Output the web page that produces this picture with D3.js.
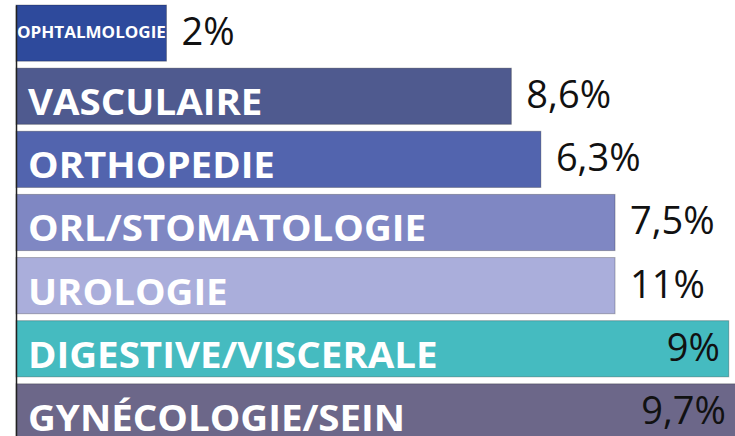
<!DOCTYPE html>
<html>
<head>
  <meta charset="utf-8">
  <title>Spécialités</title>
  <style>
    body { margin: 0; background: #ffffff; }
    svg { display: block; }
  </style>
</head>
<body>
  <script src="https://cdn.jsdelivr.net/npm/d3@7/dist/d3.min.js"></script>
  <script>
    // data
    var categories = ["OPHTALMOLOGIE", "VASCULAIRE", "ORTHOPEDIE", "ORL/STOMATOLOGIE",
                      "UROLOGIE", "DIGESTIVE/VISCERALE", "GYNÉCOLOGIE/SEIN"];
    // bar lengths (as drawn, in % of the plot width)
    var barValues = [20.9, 68.8, 72.9, 83.2, 83.2, 99.0, 100];
    // the numbers printed next to the bars
    var valueLabels = ["2%", "8,6%", "6,3%", "7,5%", "11%", "9%", "9,7%"];
    var barColors = ["#2e4a9c", "#4f5a8f", "#5264ae", "#7f87c3", "#aaaedb", "#45bbc0", "#6c6789"];

    var width = 735, height = 436;

    var svg = d3.select("body").append("svg")
        .attr("width", width)
        .attr("height", height);

    var x = d3.scaleLinear()
        .domain([0, 100])
        .range([16, 736]);

    var y = d3.scaleBand()
        .domain(categories)
        .range([5, 440])
        .paddingInner(0.11)
        .paddingOuter(0);

    var rows = categories.map(function (c, i) {
      return { cat: c, v: barValues[i], label: valueLabels[i], color: barColors[i], i: i };
    });

    // bars
    svg.selectAll("rect.bar")
      .data(rows)
      .enter().append("rect")
        .attr("class", "bar")
        .attr("x", x(0))
        .attr("y", function (d) { return y(d.cat); })
        .attr("width", function (d) { return x(d.v) - x(0); })
        .attr("height", y.bandwidth())
        .attr("fill", function (d) { return d.color; })
        .attr("stroke", "rgba(0,0,0,0.25)")
        .attr("stroke-width", 1);

    // category names inside bars (stretched a bit, the original font is taller)
    svg.selectAll("text.cat")
      .data(rows)
      .enter().append("text")
        .attr("class", "cat")
        .attr("transform", function (d) {
          var tx = d.i === 0 ? x(0) + 1 : x(0) + 12;
          var ty = y(d.cat) + (d.i === 0 ? 33 : 47);
          return "translate(" + tx + "," + ty + ") scale(1.1,1)";
        })
        .attr("font-family", "'Open Sans', sans-serif")
        .attr("font-weight", "bold")
        .attr("font-size", function (d) { return d.i === 0 ? "15.5px" : "35px"; })
        .attr("fill", "#ffffff")
        .text(function (d) { return d.cat; });

    // percentage labels, outside the bar unless there is no room left
    svg.selectAll("text.val")
      .data(rows)
      .enter().append("text")
        .attr("class", "val")
        .attr("font-family", "'Open Sans', sans-serif")
        .attr("font-size", "38px")
        .attr("fill", "#111111")
        .attr("y", function (d) { return y(d.cat) + 40; })
        .text(function (d) { return d.label; })
        .each(function (d) {
          var t = d3.select(this);
          var w = this.getComputedTextLength();
          var end = x(d.v);
          if (end + 14 + w > width - 4) {
            t.attr("x", Math.min(end, width) - 9).attr("text-anchor", "end");
          } else {
            t.attr("x", end + 15).attr("text-anchor", "start");
          }
        });

    // left axis line only
    svg.append("g")
        .attr("transform", "translate(" + x(0) + ",0)")
        .call(d3.axisLeft(y).tickSize(0).tickSizeOuter(0).tickFormat(""))
        .call(function (g) {
          g.select(".domain").attr("stroke", "#222").attr("stroke-width", 1.5);
        });
  </script>
</body>
</html>
